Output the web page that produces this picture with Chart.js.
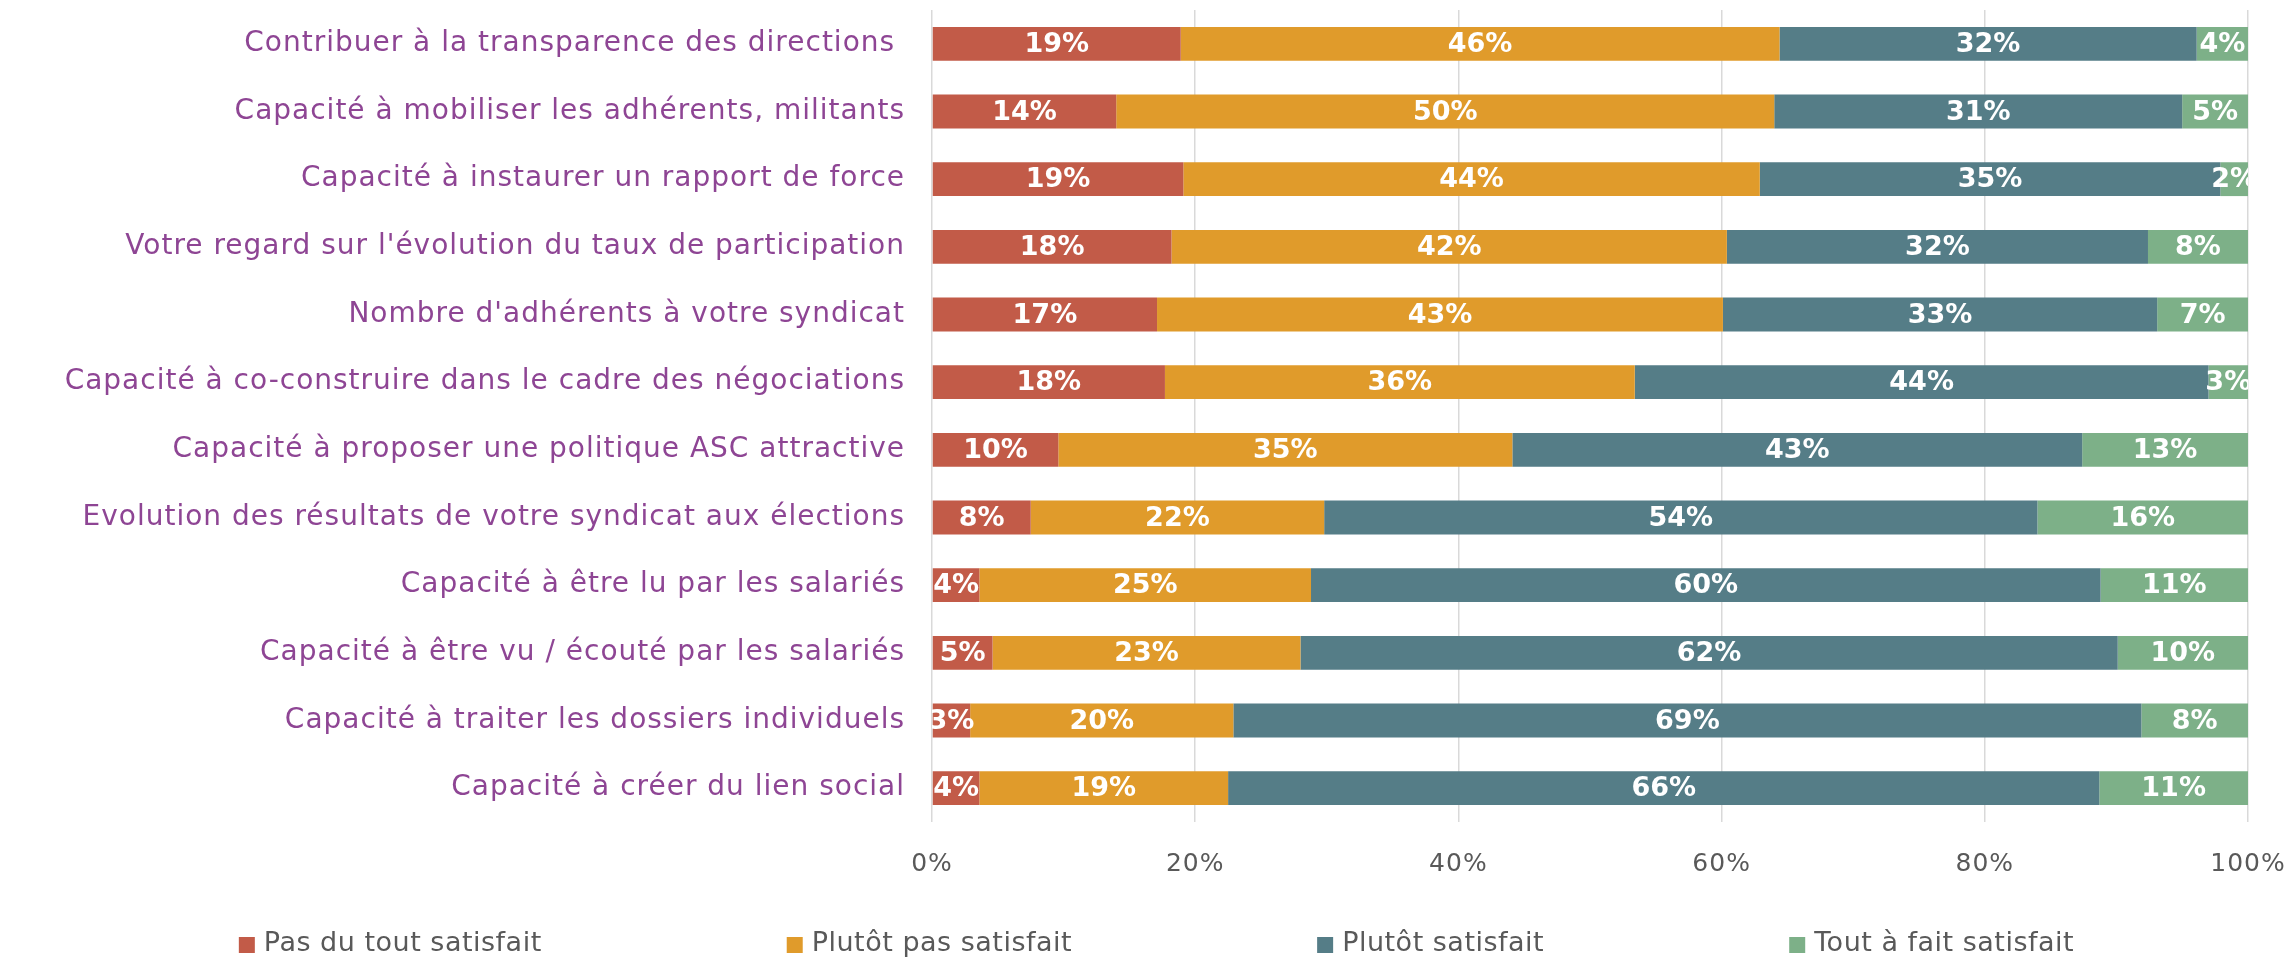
<!DOCTYPE html>
<html lang="fr">
<head>
<meta charset="utf-8">
<title>Satisfaction syndicale</title>
<script src="https://cdn.jsdelivr.net/npm/chart.js@4.4.1/dist/chart.umd.min.js"></script>
<style>
    body { margin: 0; background: #ffffff; }
    #grafico { display: block; }
</style>
</head>
<body>
<canvas id="grafico" width="2293" height="960"></canvas>
<script>
//#region Donnees
const categories = [
    "Contribuer à la transparence des directions ",
    "Capacité à mobiliser les adhérents, militants",
    "Capacité à instaurer un rapport de force",
    "Votre regard sur l'évolution du taux de participation",
    "Nombre d'adhérents à votre syndicat",
    "Capacité à co-construire dans le cadre des négociations",
    "Capacité à proposer une politique ASC attractive",
    "Evolution des résultats de votre syndicat aux élections",
    "Capacité à être lu par les salariés",
    "Capacité à être vu / écouté par les salariés",
    "Capacité à traiter les dossiers individuels",
    "Capacité à créer du lien social"
]

const pasDuTout = [18.9, 14.0, 19.1, 18.2, 17.1, 17.7, 9.6, 7.5, 3.6, 4.6, 2.9, 3.6]
const plutotPas = [45.5, 50.0, 43.8, 42.2, 43.0, 35.7, 34.5, 22.3, 25.2, 23.4, 20.0, 18.9]
const plutotSatisfait = [31.7, 31.0, 35.0, 32.0, 33.0, 43.6, 43.3, 54.2, 60.0, 62.1, 69.0, 66.2]
const toutAFait = [3.9, 5.0, 2.1, 7.6, 6.9, 3.0, 12.6, 16.0, 11.2, 9.9, 8.1, 11.3]

const nomsSeries = ["Pas du tout satisfait", "Plutôt pas satisfait", "Plutôt satisfait", "Tout à fait satisfait"]
const couleurs = ["#C25B48", "#E09B2B", "#557D87", "#7DB088"]
const ticksX = [0, 20, 40, 60, 80, 100]
//#endregion

const police = "'DejaVu Sans', sans-serif"

// zone du graphique voulue (en px)
const zone = { top: 10, bottom: 822, right: 2248 }

//#region Plugins
// un peu d'espacement sur les textes des axes (la police d'origine est large)
const espacement = {
    id: 'espacement',
    beforeDraw(chart) {
        chart.ctx.letterSpacing = '1px'
    },
    beforeDatasetsDraw(chart) {
        chart.ctx.letterSpacing = '0px'
    }
}

// pourcentages en blanc au centre de chaque segment
const etiquettes = {
    id: 'etiquettes',
    afterDatasetsDraw(chart) {
        const ctx = chart.ctx
        const area = chart.chartArea
        ctx.save()
        ctx.beginPath()
        ctx.rect(area.left, area.top, area.right - area.left, area.bottom - area.top)
        ctx.clip()
        ctx.font = "bold 27px " + police
        ctx.fillStyle = "#ffffff"
        ctx.textAlign = "center"
        ctx.textBaseline = "middle"
        chart.data.datasets.forEach((ds, i) => {
            const meta = chart.getDatasetMeta(i)
            meta.data.forEach((bar, j) => {
                const x = (bar.x + bar.base) / 2
                ctx.fillText(Math.round(ds.data[j]) + "%", x, bar.y + 1)
            })
        })
        ctx.restore()
    }
}

// legende en bas, items espaces comme dans Excel
const legendeBas = {
    id: 'legendeBas',
    afterDraw(chart) {
        const ctx = chart.ctx
        const carre = 16
        const espace = 9
        const ecart = 245
        ctx.save()
        ctx.letterSpacing = '0.5px'
        ctx.font = "27px " + police
        ctx.textBaseline = "middle"
        let largeurs = nomsSeries.map(n => ctx.measureText(n).width)
        let total = 0
        for (let i = 0; i < largeurs.length; i++) {
            total += carre + espace + largeurs[i]
            if (i > 0) total += ecart
        }
        let x = (chart.width - total) / 2 + 10
        const y = 944
        for (let i = 0; i < nomsSeries.length; i++) {
            ctx.fillStyle = couleurs[i]
            ctx.fillRect(x, y - carre / 2 + 1, carre, carre)
            ctx.fillStyle = "#595959"
            ctx.fillText(nomsSeries[i], x + carre + espace, y)
            x += carre + espace + largeurs[i] + ecart
        }
        ctx.restore()
    }
}
//#endregion

const series = [pasDuTout, plutotPas, plutotSatisfait, toutAFait]

const CriaGrafico = () => {
    const ctx = document.getElementById('grafico')

    let datasets = []
    for (let i = 0; i < series.length; i++) {
        datasets.push({
            label: nomsSeries[i],
            data: series[i],
            backgroundColor: couleurs[i],
            borderWidth: 0,
            barPercentage: 0.5,
            categoryPercentage: 1.0
        })
    }

    const grafico = new Chart(ctx, {
        type: 'bar',
        data: {
            labels: categories,
            datasets: datasets
        },
        options: {
            indexAxis: 'y',
            responsive: false,
            animation: false,
            devicePixelRatio: 1,
            layout: {
                autoPadding: false,
                padding: { top: 10, right: 45, bottom: 54, left: 0 }
            },
            plugins: {
                legend: { display: false },
                tooltip: { enabled: false }
            },
            scales: {
                x: {
                    stacked: true,
                    min: 0,
                    max: 100,
                    afterBuildTicks: (scale) => {
                        scale.ticks = ticksX.map(v => ({ value: v }))
                    },
                    // meme astuce : l'ecart sous l'axe via des ticks invisibles
                    grid: {
                        color: "#d9d9d9",
                        lineWidth: 1.5,
                        drawTicks: true,
                        tickLength: 27,
                        tickColor: "rgba(0,0,0,0)"
                    },
                    border: { display: false },
                    ticks: {
                        padding: 0,
                        color: "#595959",
                        font: { family: police, size: 25 },
                        callback: (v) => v + "%"
                    }
                },
                y: {
                    stacked: true,
                    afterFit: (scale) => {
                        scale.width = 932
                    },
                    // l'écart texte / axe passe par tickLength, sinon le padding
                    // des ticks repousse le haut de la zone de tracé
                    grid: { display: false, tickLength: 34 },
                    border: { display: false },
                    ticks: {
                        autoSkip: false,
                        padding: -7,
                        color: "#8E4594",
                        font: { family: police, size: 28 }
                    }
                }
            }
        },
        plugins: [espacement, etiquettes, legendeBas]
    })

    // on recale la zone de tracé une fois la mise en page connue
    const pad = grafico.options.layout.padding
    const area = grafico.chartArea
    pad.top -= area.top - zone.top
    pad.bottom += area.bottom - zone.bottom
    pad.right += area.right - zone.right
    grafico.update()
}

CriaGrafico()
</script>
</body>
</html>
